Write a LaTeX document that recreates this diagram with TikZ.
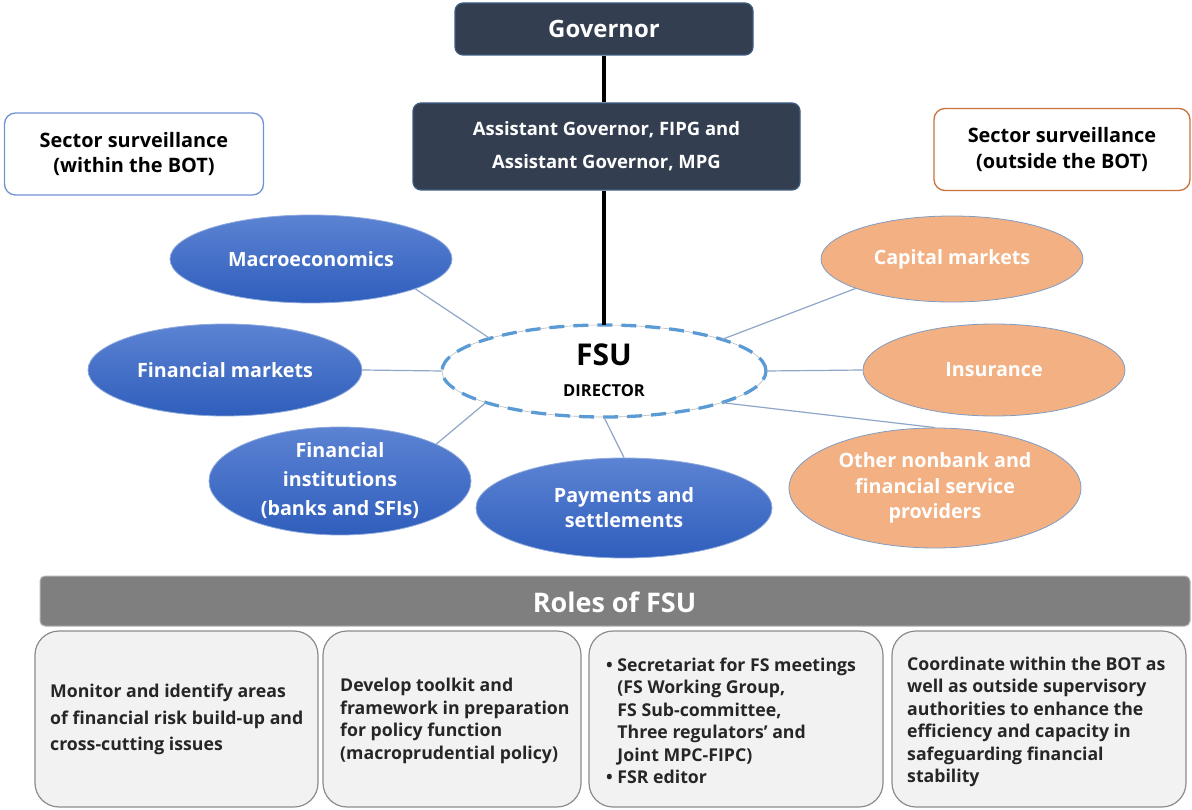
\documentclass[tikz,border=0pt]{standalone}
\usepackage{fontspec}
\setmainfont{Open Sans}
\usetikzlibrary{shapes.geometric}

\definecolor{navy}{HTML}{333F50}
\definecolor{navyedge}{HTML}{3E5C80}
\definecolor{bluetop}{HTML}{5C83D3}
\definecolor{bluebot}{HTML}{2F5EBC}
\definecolor{blueedge}{HTML}{8FAADC}
\definecolor{peach}{HTML}{F3B083}
\definecolor{peachedge}{HTML}{7F9DC4}
\definecolor{linkc}{HTML}{8EA6C8}
\definecolor{fsublue}{HTML}{5B9BD5}
\definecolor{withinedge}{HTML}{6F93D3}
\definecolor{outsideedge}{HTML}{C8733A}
\definecolor{barfill}{HTML}{7F7F7F}
\definecolor{boxfill}{HTML}{F2F2F2}
\definecolor{boxedge}{HTML}{8C8C8C}
\definecolor{ink}{HTML}{262626}

\tikzset{
  darkbox/.style={draw=navyedge, line width=1.2pt, fill=navy, rounded corners=8pt,
    text=white, align=center, inner sep=0pt},
  sectorbox/.style={fill=white, line width=1.3pt, rounded corners=11pt, align=center,
    inner sep=0pt, text=black, font=\bfseries\fontsize{19.9}{25.5}\selectfont},
  bluenode/.style={ellipse, draw=blueedge, line width=0.8pt, top color=bluetop,
    bottom color=bluebot, text=white, align=center, inner sep=0pt,
    font=\bfseries\fontsize{19.7}{29}\selectfont},
  peachnode/.style={ellipse, draw=peachedge, line width=0.8pt, fill=peach,
    text=white, align=center, inner sep=0pt,
    font=\bfseries\fontsize{19.7}{25.5}\selectfont},
  link/.style={draw=linkc, line width=1.2pt},
  spine/.style={draw=black, line width=3.5pt},
  rolebox/.style={draw=boxedge, line width=1.2pt, fill=boxfill, rounded corners=24pt,
    inner sep=0pt},
  roletext/.style={anchor=west, align=left, inner sep=0pt, text=ink,
    font=\bfseries\fontsize{17.7}{22.5}\selectfont},
}

\begin{document}
\begin{tikzpicture}[x=1pt, y=-1pt]
\useasboundingbox (0,0) rectangle (1192,810);

% chain of command
\node[darkbox, minimum width=298, minimum height=52,
  font=\bfseries\fontsize{23.9}{28}\selectfont] (gov) at (604,29) {Governor};
\node[darkbox, minimum width=387, minimum height=87,
  font=\bfseries\fontsize{18.45}{33}\selectfont] (asst) at (606.5,146.5)
  {Assistant Governor, FIPG and\\Assistant Governor, MPG};

% sector surveillance captions
\node[sectorbox, draw=withinedge, minimum width=259, minimum height=82] (within)
  at (134,154) {Sector surveillance\\(within the BOT)};
\node[sectorbox, draw=outsideedge, minimum width=256, minimum height=82] (outside)
  at (1062,149.5) {Sector surveillance\\(outside the BOT)};

% the unit itself
\node[ellipse, minimum width=324, minimum height=92, inner sep=0pt,
  draw=gray!55, line width=0.6pt,
  postaction={draw=fsublue, line width=3.3pt, dash pattern=on 15pt off 9pt}]
  (fsu) at (604,371) {};
\node[font=\bfseries\fontsize{30}{34}\selectfont, inner sep=0pt] (fsuname)
  at (604,355) {FSU};
\node[font=\bfseries\fontsize{16.5}{20}\selectfont, inner sep=0pt] (fsudir)
  at (604,391) {DIRECTOR};

% areas within the BOT
\node[bluenode, minimum width=282, minimum height=88] (macro) at (311,259) {Macroeconomics};
\node[bluenode, minimum width=274, minimum height=92] (fm) at (225,370) {Financial markets};
\node[bluenode, minimum width=262, minimum height=108] (fi) at (340,481)
  {Financial\\institutions\\(banks and SFIs)};
\node[bluenode, minimum width=296, minimum height=100,
  font=\bfseries\fontsize{19.7}{25}\selectfont] (pay) at (624,508)
  {Payments and\\settlements};

% areas outside the BOT
\node[peachnode, minimum width=262, minimum height=86] (cap) at (952,259) {Capital markets};
\node[peachnode, minimum width=262, minimum height=92] (ins) at (994,370) {Insurance};
\node[peachnode, minimum width=292, minimum height=120] (oth) at (935,488)
  {Other nonbank and\\financial service\\providers};

% reporting line, kept vertical
\draw[spine] (gov.south) -- (gov.south |- asst.north);
\draw[spine] (fsu.north |- asst.south) -- (fsu.north);

% links to the surveillance areas
\draw[link] (macro.-16.7) -- (fsu.164.6);
\draw[link] (fm.east) -- (fsu.west);
\draw[link] (fi.21.8) -- (fsu.195.9);
\draw[link] (fsu.south) -- (pay.north);
\draw[link] (cap.197.7) -- (fsu.15.4);
\draw[link] (fsu.east) -- (ins.west);
\draw[link] (fsu.-15.9) -- (oth.north);

% roles
\node[draw=gray!60, line width=1pt, fill=barfill, rounded corners=5pt,
  minimum width=1150, minimum height=50, inner sep=0pt] (bar) at (615,601) {};
\node[text=white, font=\bfseries\fontsize{27}{30}\selectfont, inner sep=0pt]
  (bartitle) at (614.5,602) {Roles of FSU};

\node[rolebox, minimum width=283, minimum height=176] (r1) at (176.5,719) {};
\node[rolebox, minimum width=258, minimum height=176] (r2) at (452,719) {};
\node[rolebox, minimum width=294, minimum height=176] (r3) at (736,719) {};
\node[rolebox, minimum width=294, minimum height=176] (r4) at (1039,719) {};

\node[roletext, font=\bfseries\fontsize{17.7}{26.5}\selectfont] (t1) at (50,719.5)
  {Monitor and identify areas\\of financial risk build-up and\\cross-cutting issues};
\node[roletext] (t2) at (340,721)
  {Develop toolkit and\\framework in preparation\\for policy function\\(macroprudential policy)};
\node[roletext] (t3) at (606,721)
  {\textbullet\ Secretariat for FS meetings\\
   \phantom{\textbullet\ }(FS Working Group,\\
   \phantom{\textbullet\ }FS Sub-committee,\\
   \phantom{\textbullet\ }Three regulators’ and\\
   \phantom{\textbullet\ }Joint MPC-FIPC)\\
   \textbullet\ FSR editor};
\node[roletext] (t4) at (907,722)
  {Coordinate within the BOT as\\well as outside supervisory\\authorities to enhance the\\efficiency and capacity in\\safeguarding financial\\stability};
\end{tikzpicture}
\end{document}
